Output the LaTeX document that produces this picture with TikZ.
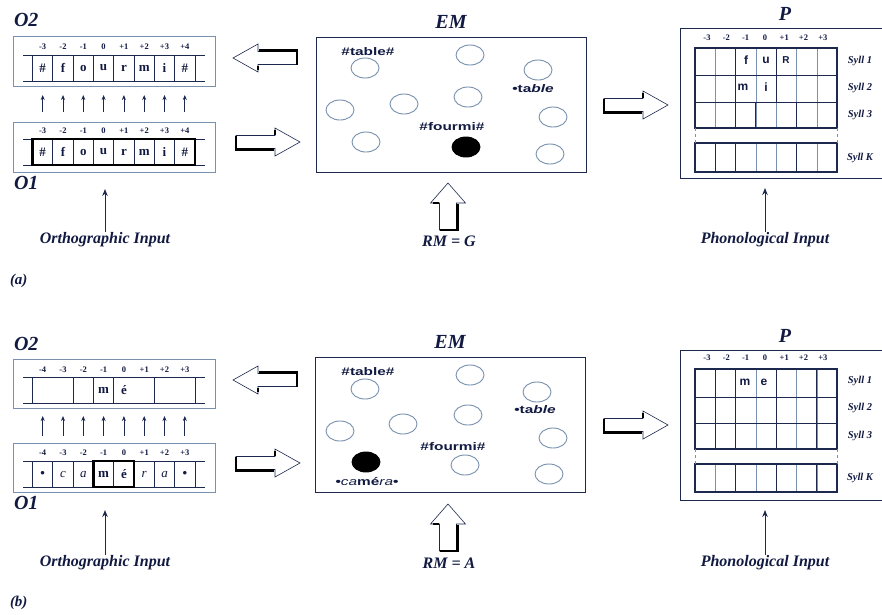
\documentclass[tikz,border=0pt]{standalone}
\usepackage{fontspec}
\setmainfont{Liberation Serif}
\setsansfont{Liberation Sans}
\usepackage{xcolor}
\usepackage{tikz}
\usetikzlibrary{arrows.meta,calc,shapes.geometric}

\tikzset{
  arrow dims/.code n args={4}{\def\balen{#1}\def\bahead{#2}\def\bahw{#3}\def\basw{#4}},
  harrow/.style={arrow dims={64}{25}{14}{6.5}},
  varrow/.style={arrow dims={47}{20}{17.5}{8.5}},
  blockarrow/.pic={
    \path[draw=inkColor,line width=0.6pt,fill=white] (0,0) -- (-\bahead,-\bahw) -- (-\bahead,-\basw) -- (-\balen,-\basw) -- (-\balen,\basw) -- (-\bahead,\basw) -- (-\bahead,\bahw) -- cycle;
    \path[draw=black,line width=2.8pt] (-\balen,-\basw) -- (-\balen,\basw+1.2) -- (-\bahead-1,\basw+1.2);
    \path[draw=black,line width=2.8pt] (-\bahead,-\bahw+2) -- (-\bahead,-\basw-1);
  }
}

\begin{document}
\begin{tikzpicture}[x=1pt,y=-1pt,
  boxname/.style={text=textColor,anchor=west,inner sep=0pt,outer sep=0pt,font=\fontsize{20}{20}\selectfont\bfseries\itshape},
  inlabel/.style={text=textColor,inner sep=1pt,outer sep=0pt,font=\fontsize{16}{16}\selectfont\bfseries\itshape},
  panel/.style={text=textColor,anchor=west,inner sep=0pt,outer sep=0pt,font=\fontsize{15}{15}\selectfont\bfseries\itshape},
  posnum/.style={text=textColor,inner sep=0pt,outer sep=0pt,font=\fontsize{8.5}{8.5}\selectfont\bfseries},
  cellletter/.style={text=textColor,inner sep=0pt,outer sep=0pt,font=\fontsize{13}{13}\selectfont\bfseries},
  phonletter/.style={text=textColor,inner sep=0pt,outer sep=0pt,font=\sffamily\fontsize{12}{12}\selectfont\bfseries},
  emword/.style={text=textColor,inner sep=0pt,outer sep=0pt,xscale=1.4,font=\sffamily\fontsize{11}{11}\selectfont\bfseries},
  syllname/.style={text=textColor,inner sep=0pt,outer sep=0pt,font=\fontsize{10.5}{10.5}\selectfont\bfseries\itshape},
  unit/.style={ellipse,draw=paleColor,line width=0.9pt,minimum width=28pt,minimum height=20pt,inner sep=0pt},
  uniton/.style={unit,draw=black,fill=black},
  linkarrow/.style={draw=inkColor,line width=0.8pt,-{Stealth[length=5pt,width=4pt]}},
  inputarrow/.style={draw=inkColor,line width=1pt,-{Stealth[length=7pt,width=5.5pt]}}]
\definecolor{inkColor}{RGB}{28,40,78}
\definecolor{paleColor}{RGB}{120,145,175}
\definecolor{textColor}{RGB}{18,26,66}
\path[use as bounding box,fill=white] (0,0) rectangle (882,614);

\node[boxname] (aO2name) at (14,20) {O2};
\path[draw=paleColor,line width=0.8pt] (13,36) rectangle (215,86);
\foreach \lab [count=\k from 0] in {-3,-2,-1,0,+1,+2,+3,+4}
  \node[posnum] (aO2n\k) at (42.7+20.3*\k,47) {\lab};
\path[draw=inkColor,line width=1pt] (23,55) -- (205,55);
\path[draw=inkColor,line width=1pt] (23,81) -- (205,81);
\foreach \k in {0,...,8}
  \path[draw=inkColor,line width=0.8pt] (32.5+20.3*\k,55) -- (32.5+20.3*\k,81);
\foreach \ch [count=\k from 0] in {\#,f,o,u,r,m,i,\#}
  \node[cellletter] (aO2c\k) at (42.7+20.3*\k,68) {\ch};

\foreach \k in {0,...,7}{
  \coordinate (aLow\k) at (42.7+20.3*\k,112);
  \coordinate (aHigh\k) at (42.7+20.3*\k,95);
  \draw[linkarrow] (aLow\k) -- (aHigh\k);
}

\path[draw=paleColor,line width=0.8pt] (13,122) rectangle (215,172);
\foreach \lab [count=\k from 0] in {-3,-2,-1,0,+1,+2,+3,+4}
  \node[posnum] (aO1n\k) at (42.7+20.3*\k,131) {\lab};
\path[draw=inkColor,line width=1pt] (23,139) -- (205,139);
\path[draw=inkColor,line width=1pt] (23,165) -- (205,165);
\foreach \k in {0,...,8}
  \path[draw=inkColor,line width=0.8pt] (32.5+20.3*\k,139) -- (32.5+20.3*\k,165);
\path[draw=black,line width=2.2pt] (32.5,139) rectangle (194.9,165);
\foreach \ch [count=\k from 0] in {\#,f,o,u,r,m,i,\#}
  \node[cellletter] (aO1c\k) at (42.7+20.3*\k,152) {\ch};
\node[boxname] (aO1name) at (14,183) {O1};

\node[inlabel] (aOrtho) at (105,240) {Orthographic Input};
\coordinate (aOrthoTip) at (105,189);
\draw[inputarrow] (aOrtho) -- (aOrthoTip);

\pic[harrow,rotate=180] at (233,58) {blockarrow};
\pic[harrow] at (300,142) {blockarrow};

\node[boxname,anchor=center] (aEMname) at (451,22) {EM};
\path[draw=inkColor,line width=1pt] (316,37) rectangle (586,172);
\foreach \cx/\cy [count=\i] in {365/68,470/55,538/70,468/97,404/104,340/110,366/142,553/117,550/154}
  \node[unit] (aU\i) at (\cx,\cy) {};
\node[uniton] (aUon) at (466,147) {};
\node[emword] (aWtable) at (368,52) {\#table\#};
\node[emword] (aWtab) at (533,89) {\textbullet ta\textit{ble}};
\node[emword] (aWfourmi) at (452,127) {\#fourmi\#};

\pic[varrow,rotate=90] at (448,183) {blockarrow};
\node[inlabel] (aRM) at (449,241) {RM = G};

\pic[harrow] at (668,105) {blockarrow};

\node[boxname,anchor=center] (aPname) at (785,14) {P};
\path[draw=inkColor,line width=1pt] (882,28) -- (680,28) -- (680,178) -- (882,178);
\foreach \lab [count=\k from 0] in {-3,-2,-1,0,+1,+2,+3}
  \node[posnum] (aPn\k) at (707+19.3*\k,38) {\lab};
\foreach \k in {1,...,6}{
  \path[draw=paleColor,line width=0.4pt] (695+20.3*\k,48) -- (695+20.3*\k,128);
  \path[draw=paleColor,line width=0.4pt] (695+20.3*\k,143) -- (695+20.3*\k,172);
}
\foreach \k in {2,4}
  \path[draw=inkColor,line width=1pt] (695+20.3*\k,48) -- (695+20.3*\k,102);
\foreach \k in {2,3,5}
  \path[draw=inkColor,line width=1pt] (695+20.3*\k,102) -- (695+20.3*\k,128);
\foreach \k in {1,2,5}
  \path[draw=inkColor,line width=1pt] (695+20.3*\k,143) -- (695+20.3*\k,172);
\foreach \yy in {75,102}
  \path[draw=inkColor,line width=0.8pt] (695,\yy) -- (837,\yy);
\path[draw=inkColor,line width=1.2pt] (695,48) rectangle (837,128);
\path[draw=inkColor,line width=1.2pt] (695,143) rectangle (837,172);
\path[draw=paleColor,line width=0.4pt,dashed] (695,128) -- (695,143);
\path[draw=paleColor,line width=0.4pt,dashed] (837,128) -- (837,143);
\node[phonletter] (aPf) at (746,60) {f};
\node[phonletter] (aPu) at (766,60) {u};
\node[phonletter,font=\sffamily\fontsize{10}{10}\selectfont\bfseries] (aPR) at (786,60) {R};
\node[phonletter] (aPm) at (743,87) {m};
\node[phonletter] (aPi) at (766,87) {i};
\node[syllname] (aS1) at (860,61) {Syll 1};
\node[syllname] (aS2) at (860,88) {Syll 2};
\node[syllname] (aS3) at (860,115) {Syll 3};
\node[syllname] (aSK) at (860,158) {Syll K};

\node[inlabel] (aPhon) at (765,240) {Phonological Input};
\coordinate (aPhonTip) at (765,188);
\draw[inputarrow] (aPhon) -- (aPhonTip);

\node[panel] (aTag) at (10,281) {(a)};

\node[boxname] (bO2name) at (14,344) {O2};
\path[draw=paleColor,line width=0.8pt] (13,359) rectangle (215,408);
\foreach \lab [count=\k from 0] in {-4,-3,-2,-1,0,+1,+2,+3}
  \node[posnum] (bO2n\k) at (42.7+20.3*\k,370) {\lab};
\path[draw=inkColor,line width=1pt] (23,377) -- (205,377);
\path[draw=inkColor,line width=1pt] (23,403) -- (205,403);
\foreach \k in {0,2,3,4,6,8}
  \path[draw=inkColor,line width=0.8pt] (32.5+20.3*\k,377) -- (32.5+20.3*\k,403);
\node[cellletter] (bO2m) at (103.6,390) {m};
\node[cellletter] (bO2e) at (123.9,390) {é};

\foreach \k in {0,...,7}{
  \coordinate (bLow\k) at (42.7+20.3*\k,436);
  \coordinate (bHigh\k) at (42.7+20.3*\k,416);
  \draw[linkarrow] (bLow\k) -- (bHigh\k);
}

\path[draw=paleColor,line width=0.8pt] (13,443) rectangle (215,492);
\foreach \lab [count=\k from 0] in {-4,-3,-2,-1,0,+1,+2,+3}
  \node[posnum] (bO1n\k) at (42.7+20.3*\k,453) {\lab};
\path[draw=inkColor,line width=1pt] (23,461) -- (205,461);
\path[draw=inkColor,line width=1pt] (23,487) -- (205,487);
\foreach \k in {0,...,8}
  \path[draw=inkColor,line width=0.8pt] (32.5+20.3*\k,461) -- (32.5+20.3*\k,487);
\path[draw=black,line width=2.2pt] (93.4,461) rectangle (134,487);
\foreach \ch [count=\k from 0] in {\textbullet,\mdseries\itshape c,\mdseries\itshape a,m,é,\mdseries\itshape r,\mdseries\itshape a,\textbullet}
  \node[cellletter] (bO1c\k) at (42.7+20.3*\k,474) {\ch};
\node[boxname] (bO1name) at (14,503) {O1};

\node[inlabel] (bOrtho) at (105,563) {Orthographic Input};
\coordinate (bOrthoTip) at (105,510);
\draw[inputarrow] (bOrtho) -- (bOrthoTip);

\pic[harrow,rotate=180] at (233,380) {blockarrow};
\pic[harrow] at (300,463) {blockarrow};

\node[boxname,anchor=center] (bEMname) at (450,342) {EM};
\path[draw=inkColor,line width=1pt] (315,357) rectangle (585,492);
\foreach \cx/\cy [count=\i] in {365/389,470/375,537/392,468/415,403/424,340/431,465/465,553/438,549/474}
  \node[unit] (bU\i) at (\cx,\cy) {};
\node[uniton] (bUon) at (366,462) {};
\node[emword] (bWtable) at (368,372) {\#table\#};
\node[emword] (bWtab) at (535,410) {\textbullet ta\textit{ble}};
\node[emword] (bWfourmi) at (453,447) {\#fourmi\#};
\node[emword] (bWcamera) at (367,482) {\textbullet\textit{\mdseries ca}mé\textit{\mdseries ra}\textbullet};

\pic[varrow,rotate=90] at (448,504) {blockarrow};
\node[inlabel] (bRM) at (449,563) {RM = A};

\pic[harrow] at (668,425) {blockarrow};

\node[boxname,anchor=center] (bPname) at (785,336) {P};
\path[draw=inkColor,line width=1pt] (882,350) -- (680,350) -- (680,500) -- (882,500);
\foreach \lab [count=\k from 0] in {-3,-2,-1,0,+1,+2,+3}
  \node[posnum] (bPn\k) at (707+19.3*\k,358) {\lab};
\foreach \k in {1,...,6}{
  \path[draw=paleColor,line width=0.4pt] (695+20.3*\k,369) -- (695+20.3*\k,449);
  \path[draw=paleColor,line width=0.4pt] (695+20.3*\k,464) -- (695+20.3*\k,492);
}
\foreach \k in {1,2,4,6}
  \path[draw=inkColor,line width=1pt] (695+20.3*\k,369) -- (695+20.3*\k,449);
\foreach \k in {2,4,6}
  \path[draw=inkColor,line width=1pt] (695+20.3*\k,464) -- (695+20.3*\k,492);
\foreach \yy in {397,423}
  \path[draw=inkColor,line width=0.8pt] (695,\yy) -- (837,\yy);
\path[draw=inkColor,line width=1.2pt] (695,369) rectangle (837,449);
\path[draw=inkColor,line width=1.2pt] (695,464) rectangle (837,492);
\path[draw=paleColor,line width=0.4pt,dashed] (695,449) -- (695,464);
\path[draw=paleColor,line width=0.4pt,dashed] (837,449) -- (837,464);
\node[phonletter] (bPm) at (745,382) {m};
\node[phonletter] (bPe) at (764,382) {e};
\node[syllname] (bS1) at (860,381) {Syll 1};
\node[syllname] (bS2) at (860,408) {Syll 2};
\node[syllname] (bS3) at (860,436) {Syll 3};
\node[syllname] (bSK) at (860,478) {Syll K};

\node[inlabel] (bPhon) at (765,563) {Phonological Input};
\coordinate (bPhonTip) at (765,510);
\draw[inputarrow] (bPhon) -- (bPhonTip);

\node[panel] (bTag) at (10,603) {(b)};
\end{tikzpicture}
\end{document}
